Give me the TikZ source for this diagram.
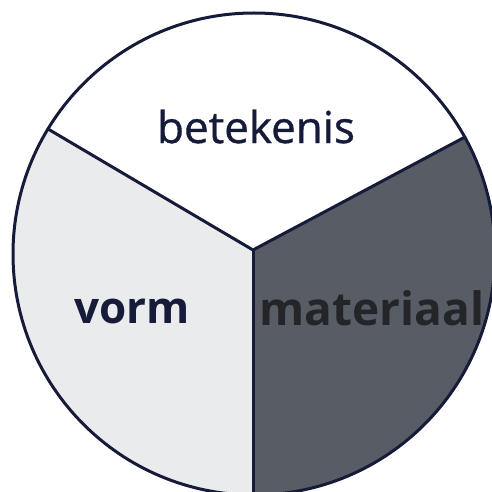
\documentclass[tikz,border=0pt]{standalone}
\usepackage{fontspec}
\setmainfont{Open Sans}
\newfontfamily\medfont[FakeBold=0.8]{Open Sans}
\definecolor{ink}{HTML}{161B3A}
\definecolor{lightsec}{HTML}{EAEBED}
\definecolor{darksec}{HTML}{585D65}
\definecolor{darktext}{HTML}{232529}
\begin{document}
\begin{tikzpicture}[x=1pt,y=-1pt,
  edge/.style={draw=ink,line width=3pt,line cap=round,line join=round},
  lbl/.style={anchor=base,inner sep=0pt,text=ink}]
\useasboundingbox (0,0) rectangle (492,492);
\coordinate (C) at (254,254);
\coordinate (O) at (253,250);
\coordinate (UL) at (48,129);
\coordinate (UR) at (465,137);
\coordinate (B) at (253,500);
\begin{scope}
  \clip (C) circle (241);
  \fill[white] (C) circle (241);
  \fill[lightsec] (O) -- (-157,8) -- (-157,600) -- (253,600) -- cycle;
  \fill[darksec] (O) -- (677,24) -- (677,600) -- (253,600) -- cycle;
\end{scope}
\draw[edge] (UL) -- (O) -- (UR);
\draw[edge] (O) -- (B);
\draw[edge] (C) circle (241);
\node[lbl,font=\medfont\fontsize{44}{50}\selectfont] (bet) at (256,143) {betekenis};
\node[lbl,font=\fontsize{44}{50}\selectfont\bfseries] (vorm) at (132,323) {vorm};
\node[lbl,font=\fontsize{46}{52}\selectfont\bfseries,text=darktext] (mat) at (372,325) {materiaal};
\end{tikzpicture}
\end{document}
